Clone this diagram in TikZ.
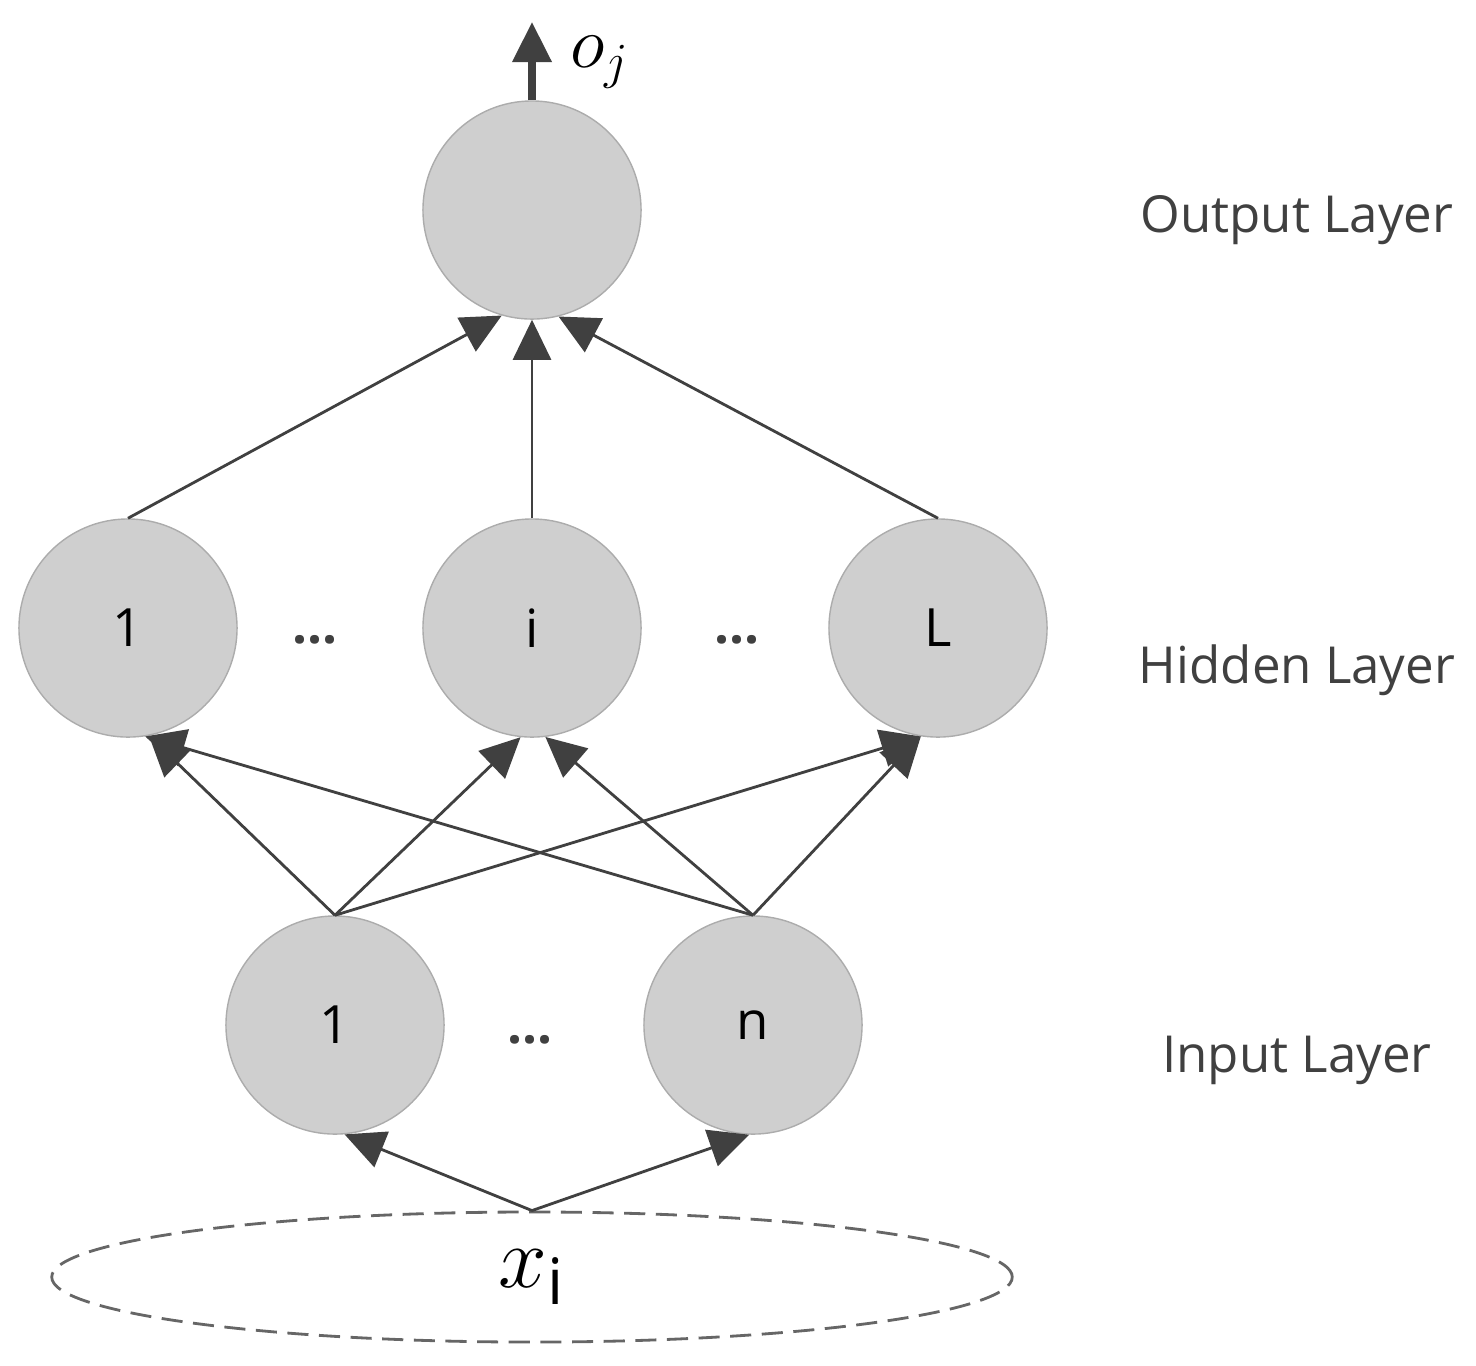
\documentclass[tikz,border=0pt]{standalone}
\usepackage{fontspec}
\setmainfont{Open Sans}
\usetikzlibrary{arrows.meta, shapes.geometric}

\begin{document}
\begin{tikzpicture}[x=0.01cm, y=-0.01cm,
neuron/.style={circle, draw=gray!65, fill=gray!38, minimum size=2.18cm, inner sep=0pt, font=\fontsize{15}{18}\selectfont},
conn/.style={draw=black!75, line width=0.8pt, -{Triangle[length=0.4cm,width=0.38cm]}},
layerlabel/.style={font=\fontsize{14.5}{17}\selectfont, text=black!75},
dots/.style={font=\bfseries\fontsize{15}{18}\selectfont, text=black!75},
]
\useasboundingbox (0,0) rectangle (1476,1365);

%Nodes
\node[neuron] at (532,210) (out) {};
\node[neuron] at (128,628) (h1) {1};
\node[neuron] at (532,628) (hi) {i};
\node[neuron] at (938,628) (hL) {L};
\node[neuron] at (335,1025) (i1) {1};
\node[neuron] at (753,1025) (in) {n};
\node[ellipse, draw=black!60, dash pattern=on 6pt off 3pt, line width=0.8pt, minimum width=9.6cm, minimum height=1.3cm] at (532,1277) (x) {\fontsize{26}{30}\selectfont$x_{\mathrm{i}}$};
\coordinate (top) at (532,22);
\node at (600,62) (oj) {\fontsize{20}{24}\selectfont$o_j$};

\node[dots] at (315,640) (d1) {...};
\node[dots] at (737,640) (d2) {...};
\node[dots] at (530,1040) (d3) {...};

\node[layerlabel] at (1297,220) (lo) {Output Layer};
\node[layerlabel] at (1297,670) (lh) {Hidden Layer};
\node[layerlabel] at (1297,1060) (li) {Input Layer};

%Lines
\draw[conn, line width=2pt] (out.north) -- (top);
\draw[conn] (h1.north) -- (out.-106);
\draw[conn] (hi.north) -- (out.south);
\draw[conn] (hL.north) -- (out.-76);
\draw[conn] (i1.north) -- (h1.-79);
\draw[conn] (i1.north) -- (hi.-96);
\draw[conn] (i1.north) -- (hL.-99);
\draw[conn] (in.north) -- (h1.-81);
\draw[conn] (in.north) -- (hi.-83);
\draw[conn] (in.north) -- (hL.-99);
\draw[conn] (x.north) -- (i1.-85);
\draw[conn] (x.north) -- (in.-92);

\end{tikzpicture}
\end{document}
